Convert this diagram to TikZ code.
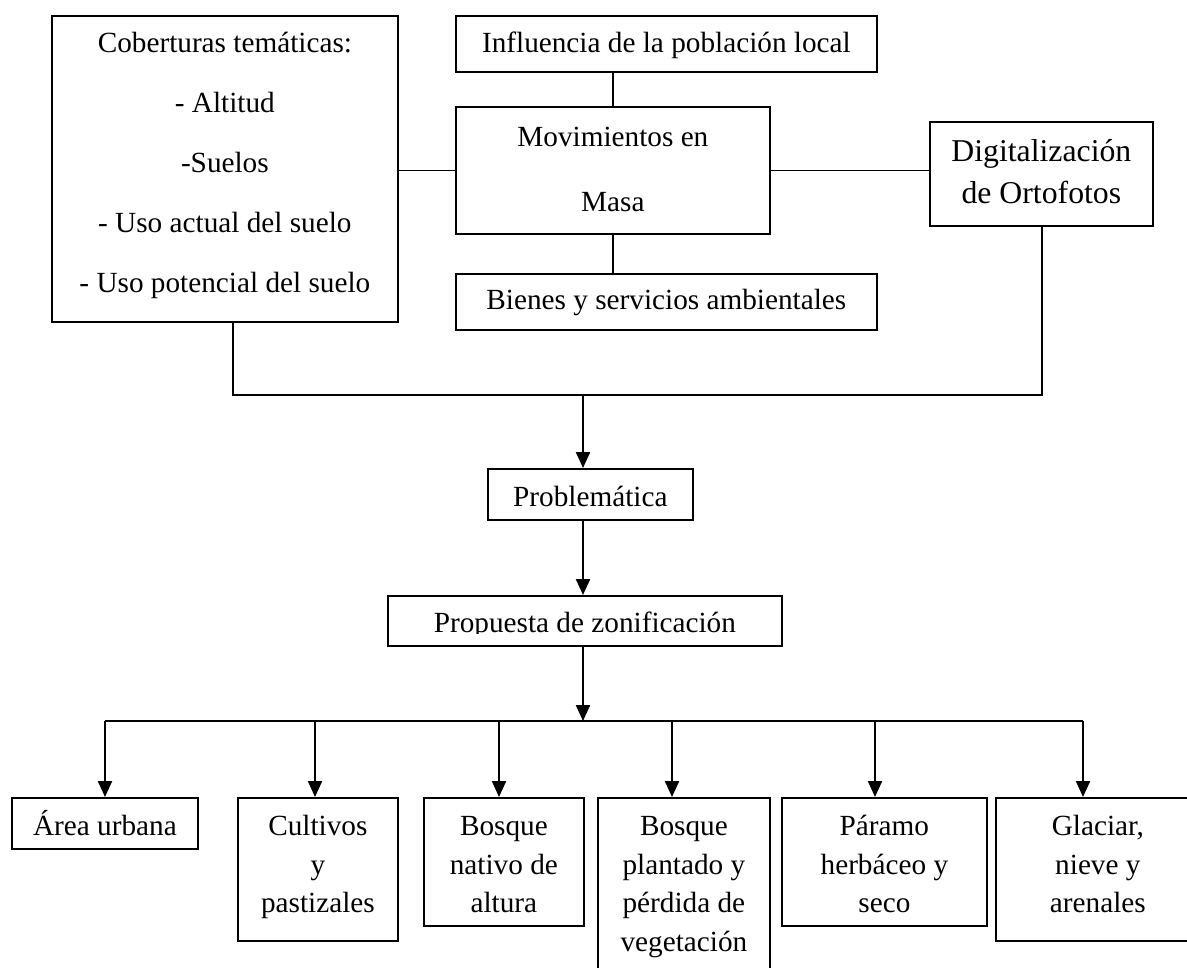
\documentclass[tikz,border=0pt]{standalone}
\usepackage{fontspec}
\setmainfont{Liberation Serif}
\usetikzlibrary{arrows.meta, positioning}

\newcommand{\boxlines}[1]{\begin{tabular}[t]{@{}c@{}}#1\end{tabular}}

\begin{document}
\begin{tikzpicture}[x=0.4pt, y=-0.4pt, line width=0.7pt,
    box/.style={draw, anchor=north west, inner xsep=2pt, inner ysep=0pt,
      text height=15.2pt, font=\fontsize{11.7}{15.4}\selectfont},
    arr/.style={-{Triangle[width=5.6pt, length=6.4pt]}, line width=0.9pt}]
    \useasboundingbox (0,0) rectangle (1187,967);

    \node[box, minimum width=138.4pt, text height=14.8pt, text depth=107.6pt,
      font=\fontsize{11.7}{24}\selectfont] (cob) at (51,15)
      {\boxlines{Coberturas temáticas:\\- Altitud\\-Suelos\\- Uso actual del suelo\\- Uso potencial del suelo}};
    \node[box, minimum width=168.4pt, text height=14.8pt, text depth=7.6pt] (infl) at (455,15)
      {Influencia de la población local};
    \node[box, minimum width=125.6pt, text height=16pt, text depth=34.8pt,
      font=\fontsize{11.7}{26}\selectfont] (mov) at (455,106) {\boxlines{Movimientos en\\Masa}};
    \node[box, minimum width=168.4pt, text height=14.4pt, text depth=8pt] (bien) at (455,273)
      {Bienes y servicios ambientales};
    \node[box, minimum width=89.2pt, text height=16pt, text depth=25.6pt,
      font=\fontsize{12.7}{16.8}\selectfont] (dig) at (929,121) {\boxlines{Digitalización\\de Ortofotos}};

    \node[box, minimum width=82pt, text depth=5.2pt] (prob) at (487,468) {Problemática};
    \node[box, minimum width=157.6pt, text height=14.8pt, text depth=5.2pt] (prop) at (387,595)
      {Propuesta de zonificación};
    \fill[white] (389,633.5) rectangle (779,643.4);

    \node[box, minimum width=74.4pt, text depth=5.2pt] (urb) at (11,797) {Área urbana};
    \node[box, minimum width=64pt, text depth=42pt] (cult) at (237,797) {\boxlines{Cultivos\\y\\pastizales}};
    \node[box, minimum width=64pt, text depth=36pt] (nat) at (423,797) {\boxlines{Bosque\\nativo de\\altura}};
    \node[box, minimum width=68.8pt, text depth=62pt] (plant) at (597,797)
      {\boxlines{Bosque\\plantado y\\pérdida de\\vegetación}};
    \node[box, minimum width=82pt, text depth=36pt] (par) at (781,797) {\boxlines{Páramo\\herbáceo y\\seco}};
    \node[box, minimum width=81.6pt, text depth=42pt] (gla) at (995,797) {\boxlines{Glaciar,\\nieve y\\arenales}};

    \draw (mov.west) -- (mov.west -| cob.east);
    \draw (mov.east) -- (mov.east -| dig.west);
    \draw (mov.north) -- (mov.north |- infl.south);
    \draw (mov.south) -- (mov.south |- bien.north);

    \coordinate (j1) at (233,395);
    \coordinate (j2) at (1042,395);
    \coordinate (j0) at (583,395);
    \draw (j1 |- cob.south) -- (j1) -- (j2) -- (j2 |- dig.south);
    \draw[arr] (j0) -- (j0 |- prob.north);
    \draw[arr] (j0 |- prob.south) -- (j0 |- prop.north);

    \foreach \x/\n in {105/urb, 315/cult, 499/nat, 672/plant, 875/par, 1083/gla}
      \coordinate (b-\n) at (\x,721);
    \draw[arr] (j0 |- prop.south) -- (j0 |- b-urb);
    \draw (b-urb) -- (b-gla);
    \foreach \n in {urb, cult, nat, plant, par, gla}
      \draw[arr] (b-\n) -- (b-\n |- \n.north);
\end{tikzpicture}
\end{document}
